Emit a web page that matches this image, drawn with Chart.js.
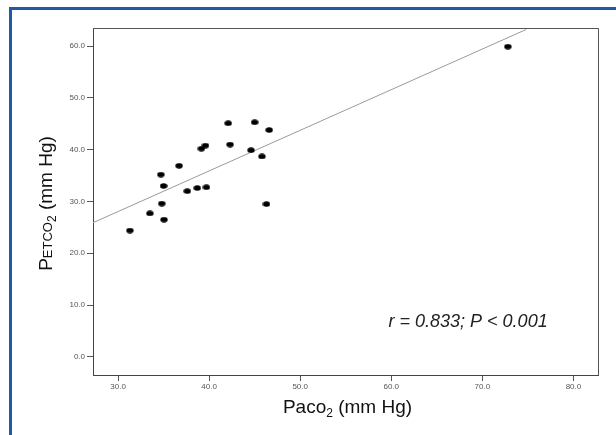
<!DOCTYPE html>
<html>
<head>
<meta charset="utf-8">
<script src="https://cdn.jsdelivr.net/npm/chart.js@4"></script>
<style>
  body { margin: 0; background: #fff; }
  #wrap { position: relative; width: 616px; height: 435px; }
  #frame { position: absolute; left: 9px; top: 7px; right: -10px; bottom: -10px;
           border-top: 3px solid #1d5aa7; border-left: 3px solid #1d5aa7; }
  canvas { position: absolute; left: 0; top: 0; }
</style>
</head>
<body>
<div id="wrap">
  <div id="frame"></div>
  <canvas id="chart" width="616" height="435"></canvas>
</div>
<script>
// PaCO2 vs PETCO2 (mm Hg)
const paco2 = [31.3, 33.5, 34.7, 34.8, 35.0, 35.05, 36.7, 37.6, 38.7, 39.15,
               39.6, 39.7, 42.1, 42.3, 44.6, 45.0, 45.8, 46.3, 46.6, 72.8];
const petco2 = [24.4, 27.7, 35.2, 29.6, 33.0, 26.5, 36.9, 32.0, 32.6, 40.2,
                40.8, 32.75, 45.1, 41.0, 39.9, 45.3, 38.7, 29.5, 43.8, 59.9];

// regression line end points (left edge -> where it leaves the top of the plot)
const fitX = [27.25, 74.8];
const fitY = [25.9, 63.2];

const xTicks = [30, 40, 50, 60, 70, 80];
const yTicks = [0, 10, 20, 30, 40, 50, 60];
const xRange = [27.25, 82.7];
const yRange = [-3.5, 63.5];

const statText = 'r = 0.833; P < 0.001';
const statAt = [59.7, 5.8];

// filled ellipse used as the marker
const dot = document.createElement('canvas');
dot.width = 8; dot.height = 6;
const dctx = dot.getContext('2d');
dctx.fillStyle = '#000';
dctx.beginPath();
dctx.ellipse(4, 3, 3.7, 2.7, 0, 0, Math.PI * 2);
dctx.fill();

const scatter = paco2.map((v, i) => ({ x: v, y: petco2[i] }));
const fitLine = fitX.map((v, i) => ({ x: v, y: fitY[i] }));

const axisFont = 'Liberation Sans, Arial, sans-serif';

// frame, axis titles with subscripts, stat text
const extras = {
  id: 'extras',
  afterDraw(chart) {
    const { ctx, chartArea: a, scales } = chart;
    ctx.save();
    ctx.strokeStyle = '#555';
    ctx.lineWidth = 1;
    ctx.beginPath();
    ctx.moveTo(a.left, a.top + 0.5);
    ctx.lineTo(a.right + 0.5, a.top + 0.5);
    ctx.lineTo(a.right + 0.5, a.bottom);
    ctx.stroke();

    ctx.fillStyle = '#111';
    ctx.textBaseline = 'alphabetic';

    // pieces: [text, size, baseline shift]
    const drawPieces = (pieces, cx, cy) => {
      let w = 0;
      pieces.forEach(p => { ctx.font = p[1] + 'px ' + axisFont; w += ctx.measureText(p[0]).width; });
      let x = cx - w / 2;
      pieces.forEach(p => {
        ctx.font = p[1] + 'px ' + axisFont;
        ctx.fillText(p[0], x, cy + p[2]);
        x += ctx.measureText(p[0]).width;
      });
    };

    drawPieces([['Paco', 19, 0], ['2', 12, 4], [' (mm Hg)', 19, 0]],
               (a.left + a.right) / 2 + 2, 413);

    ctx.save();
    ctx.translate(52, (a.top + a.bottom) / 2 + 2);
    ctx.rotate(-Math.PI / 2);
    drawPieces([['P', 19, 0], ['ETCO', 13, 0], ['2', 12, 4], [' (mm Hg)', 19, 0]], 0, 0);
    ctx.restore();

    ctx.fillStyle = '#222';
    ctx.font = 'italic 18px ' + axisFont;
    ctx.textAlign = 'left';
    ctx.fillText(statText, scales.x.getPixelForValue(statAt[0]), scales.y.getPixelForValue(statAt[1]));
    ctx.restore();
  }
};

new Chart(document.getElementById('chart'), {
  type: 'scatter',
  data: {
    datasets: [
      {
        label: 'PETCO2',
        data: scatter,
        pointStyle: dot,
        pointRadius: 4,
        order: 1
      },
      {
        type: 'line',
        label: 'fit',
        data: fitLine,
        borderColor: '#9a9a9a',
        borderWidth: 1,
        pointRadius: 0,
        fill: false,
        order: 2
      }
    ]
  },
  options: {
    responsive: false,
    animation: false,
    layout: { padding: { left: 0, top: 28, right: 18, bottom: 0 } },
    plugins: { legend: { display: false }, tooltip: { enabled: false } },
    scales: {
      x: {
        type: 'linear',
        min: xRange[0],
        max: xRange[1],
        afterBuildTicks: s => { s.ticks = xTicks.map(v => ({ value: v })); },
        afterFit: s => { s.height = 60; },
        border: { display: true, color: '#444', width: 1 },
        grid: { drawOnChartArea: false, tickLength: 6, color: '#555' },
        ticks: {
          color: '#555',
          padding: 1,
          maxRotation: 0,
          font: { family: axisFont, size: 8 },
          callback: v => v.toFixed(1)
        }
      },
      y: {
        type: 'linear',
        min: yRange[0],
        max: yRange[1],
        afterBuildTicks: s => { s.ticks = yTicks.map(v => ({ value: v })); },
        afterFit: s => { s.width = 93; },
        border: { display: true, color: '#444', width: 1 },
        grid: { drawOnChartArea: false, tickLength: 6, color: '#555' },
        ticks: {
          color: '#555',
          padding: 2,
          font: { family: axisFont, size: 8 },
          callback: v => v.toFixed(1)
        }
      }
    }
  },
  plugins: [extras]
});
</script>
</body>
</html>
